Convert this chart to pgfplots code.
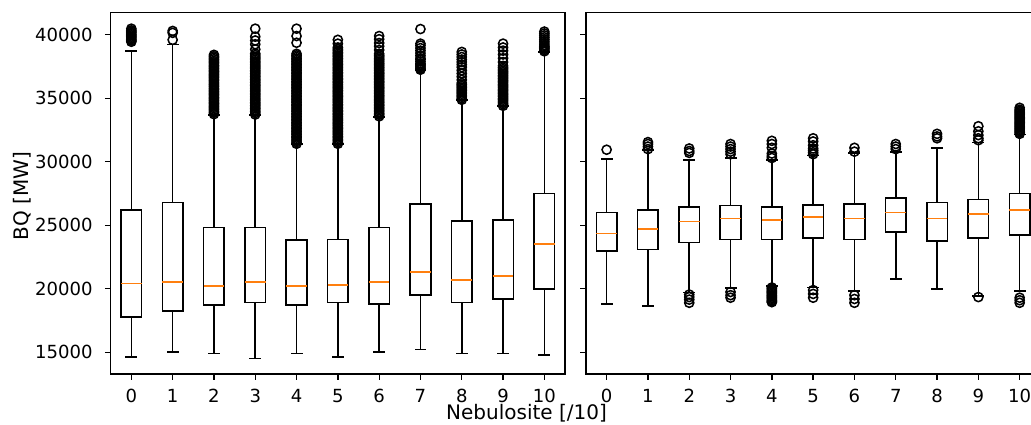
\documentclass[border=0pt]{standalone}
\usepackage{fontspec}
\setmainfont{DejaVu Sans}
\usepackage{pgfplots}
\pgfplotsset{compat=1.18}
\definecolor{mplorange}{HTML}{FF7F0E}
\pgfplotsset{
  bpaxis/.style={
    scale only axis, width=327.1pt, height=260.1pt,
    xmin=-0.5, xmax=10.5, ymin=13292, ymax=41731,
    xtick={0,1,2,3,4,5,6,7,8,9,10}, ytick={15000,20000,25000,30000,35000,40000},
    scaled y ticks=false,
    /pgf/number format/assume math mode=true,
    /pgf/number format/set thousands separator={},
    tick align=outside, major tick length=4.2pt, tick pos=left,
    every tick/.style={black, line width=0.95pt},
    axis line style={black, line width=0.95pt},
    tick label style={font=\fontsize{13}{15}\selectfont, black},
    xticklabel style={anchor=base, inner sep=0pt, yshift=-16.1pt},
    yticklabel style={anchor=east, inner sep=0pt, xshift=-8.6pt},
    label style={font=\fontsize{14.4}{16}\selectfont},
    unbounded coords=jump,
  },
  seg/.style={black, line width=1.15pt, mark=none, line cap=rect},
  med/.style={mplorange, line width=1.15pt, mark=none},
  fl/.style={only marks, mark=o, mark size=3.3pt, mark options={solid, line width=1.1pt, fill=none, draw=black}},
}
\begin{document}
\begin{tikzpicture}
\begin{axis}[bpaxis, at={(79.7pt,36pt)}, anchor=south west,
  ylabel={BQ [MW]}, ylabel style={at={(axis description cs:-0.194,0.493)}, anchor=center, inner sep=0pt}]
% whiskers and caps
\addplot[seg] coordinates {
(0,26198) (0,38717) (0,nan) (-0.125,38717) (0.125,38717) (0,nan) (0,17798) (0,14649) (0,nan) (-0.125,14649) (0.125,14649) (0,nan)
(1,26805) (1,39244) (1,nan) (0.875,39244) (1.125,39244) (1,nan) (1,18246) (1,15043) (1,nan) (0.875,15043) (1.125,15043) (1,nan)
(2,24836) (2,33678) (2,nan) (1.875,33678) (2.125,33678) (2,nan) (2,18719) (2,14916) (2,nan) (1.875,14916) (2.125,14916) (2,nan)
(3,24836) (3,33678) (3,nan) (2.875,33678) (3.125,33678) (3,nan) (3,18930) (3,14522) (3,nan) (2.875,14522) (3.125,14522) (3,nan)
(4,23837) (4,31395) (4,nan) (3.875,31395) (4.125,31395) (4,nan) (4,18719) (4,14916) (4,nan) (3.875,14916) (4.125,14916) (4,nan)
(5,23890) (5,31395) (5,nan) (4.875,31395) (5.125,31395) (5,nan) (5,18930) (5,14649) (5,nan) (4.875,14649) (5.125,14649) (5,nan)
(6,24836) (6,33547) (6,nan) (5.875,33547) (6.125,33547) (6,nan) (6,18822) (6,15043) (6,nan) (5.875,15043) (6.125,15043) (6,nan)
(7,26670) (7,37221) (7,nan) (6.875,37221) (7.125,37221) (7,nan) (7,19507) (7,15233) (7,nan) (6.875,15233) (7.125,15233) (7,nan)
(8,25333) (8,34859) (8,nan) (7.875,34859) (8.125,34859) (8,nan) (8,18930) (8,14916) (8,nan) (7.875,14916) (8.125,14916) (8,nan)
(9,25411) (9,34387) (9,nan) (8.875,34387) (9.125,34387) (9,nan) (9,19192) (9,14916) (9,nan) (8.875,14916) (9.125,14916) (9,nan)
(10,27510) (10,38662) (10,nan) (9.875,38662) (10.125,38662) (10,nan) (10,19979) (10,14784) (10,nan) (9.875,14784) (10.125,14784)
};
% boxes (Q1 to Q3)
\addplot[seg, line join=miter] coordinates {
(-0.25,17798) (0.25,17798) (0.25,26198) (-0.25,26198) (-0.25,17798) (0,nan)
(0.75,18246) (1.25,18246) (1.25,26805) (0.75,26805) (0.75,18246) (1,nan)
(1.75,18719) (2.25,18719) (2.25,24836) (1.75,24836) (1.75,18719) (2,nan)
(2.75,18930) (3.25,18930) (3.25,24836) (2.75,24836) (2.75,18930) (3,nan)
(3.75,18719) (4.25,18719) (4.25,23837) (3.75,23837) (3.75,18719) (4,nan)
(4.75,18930) (5.25,18930) (5.25,23890) (4.75,23890) (4.75,18930) (5,nan)
(5.75,18822) (6.25,18822) (6.25,24836) (5.75,24836) (5.75,18822) (6,nan)
(6.75,19507) (7.25,19507) (7.25,26670) (6.75,26670) (6.75,19507) (7,nan)
(7.75,18930) (8.25,18930) (8.25,25333) (7.75,25333) (7.75,18930) (8,nan)
(8.75,19192) (9.25,19192) (9.25,25411) (8.75,25411) (8.75,19192) (9,nan)
(9.75,19979) (10.25,19979) (10.25,27510) (9.75,27510) (9.75,19979)
};
% medians
\addplot[med] coordinates {
(-0.25,20427) (0.25,20427) (0,nan)
(0.75,20555) (1.25,20555) (1,nan)
(1.75,20215) (2.25,20215) (2,nan)
(2.75,20555) (3.25,20555) (3,nan)
(3.75,20215) (4.25,20215) (4,nan)
(4.75,20320) (5.25,20320) (5,nan)
(5.75,20555) (6.25,20555) (6,nan)
(6.75,21342) (7.25,21342) (7,nan)
(7.75,20690) (8.25,20690) (8,nan)
(8.75,21005) (9.25,21005) (9,nan)
(9.75,23549) (10.25,23549)
};
% outliers
\addplot[fl] coordinates {
(0,39450) (0,39550) (0,39650) (0,39750) (0,39850) (0,39950) (0,40050) (0,40150) (0,40250) (0,40350) (0,40480)
(1,39600) (1,40150) (1,40300)
(2,33750) (2,33870) (2,33980) (2,34110) (2,34230) (2,34340) (2,34470) (2,34590) (2,34700) (2,34830) (2,34950) (2,35060) (2,35190) (2,35310) (2,35420) (2,35550) (2,35670) (2,35780) (2,35910) (2,36030) (2,36140) (2,36270) (2,36390) (2,36500) (2,36630) (2,36750) (2,36860) (2,36990) (2,37110) (2,37220) (2,37350) (2,37470) (2,37580) (2,37710) (2,37830) (2,37940) (2,38070) (2,38190) (2,38300) (2,38420)
(3,33720) (3,33840) (3,33950) (3,34080) (3,34200) (3,34310) (3,34440) (3,34560) (3,34670) (3,34800) (3,34920) (3,35030) (3,35160) (3,35280) (3,35390) (3,35520) (3,35640) (3,35750) (3,35880) (3,36000) (3,36110) (3,36240) (3,36360) (3,36470) (3,36600) (3,36720) (3,36830) (3,36960) (3,37080) (3,37190) (3,37320) (3,37440) (3,37550) (3,37680) (3,37800) (3,37910) (3,38040) (3,38160) (3,38270) (3,38400) (3,38520) (3,38850) (3,39250) (3,39550) (3,39850) (3,40480)
(4,31420) (4,31540) (4,31650) (4,31780) (4,31900) (4,32010) (4,32140) (4,32260) (4,32370) (4,32500) (4,32620) (4,32730) (4,32860) (4,32980) (4,33090) (4,33220) (4,33340) (4,33450) (4,33580) (4,33700) (4,33810) (4,33940) (4,34060) (4,34170) (4,34300) (4,34420) (4,34530) (4,34660) (4,34780) (4,34890) (4,35020) (4,35140) (4,35250) (4,35380) (4,35500) (4,35610) (4,35740) (4,35860) (4,35970) (4,36100) (4,36220) (4,36330) (4,36460) (4,36580) (4,36690) (4,36820) (4,36940) (4,37050) (4,37180) (4,37300) (4,37410) (4,37540) (4,37660) (4,37770) (4,37900) (4,38020) (4,38130) (4,38260) (4,38380) (4,38500) (4,39370) (4,39900) (4,40480)
(5,31420) (5,31540) (5,31650) (5,31780) (5,31900) (5,32010) (5,32140) (5,32260) (5,32370) (5,32500) (5,32620) (5,32730) (5,32860) (5,32980) (5,33090) (5,33220) (5,33340) (5,33450) (5,33580) (5,33700) (5,33810) (5,33940) (5,34060) (5,34170) (5,34300) (5,34420) (5,34530) (5,34660) (5,34780) (5,34890) (5,35020) (5,35140) (5,35250) (5,35380) (5,35500) (5,35610) (5,35740) (5,35860) (5,35970) (5,36100) (5,36220) (5,36330) (5,36460) (5,36580) (5,36690) (5,36820) (5,36940) (5,37050) (5,37180) (5,37300) (5,37410) (5,37540) (5,37660) (5,37770) (5,37900) (5,38020) (5,38130) (5,38260) (5,38380) (5,38500) (5,38620) (5,38750) (5,38870) (5,39000) (5,39300) (5,39600)
(6,33580) (6,33700) (6,33810) (6,33940) (6,34060) (6,34170) (6,34300) (6,34420) (6,34530) (6,34660) (6,34780) (6,34890) (6,35020) (6,35140) (6,35250) (6,35380) (6,35500) (6,35610) (6,35740) (6,35860) (6,35970) (6,36100) (6,36220) (6,36330) (6,36460) (6,36580) (6,36690) (6,36820) (6,36940) (6,37050) (6,37180) (6,37300) (6,37410) (6,37540) (6,37660) (6,37770) (6,37900) (6,38020) (6,38130) (6,38260) (6,38380) (6,38500) (6,38800) (6,39100) (6,39350) (6,39650) (6,39900)
(7,37250) (7,37350) (7,37450) (7,37550) (7,37650) (7,37750) (7,37900) (7,38050) (7,38150) (7,38350) (7,38550) (7,38750) (7,38950) (7,39150) (7,39300) (7,40450)
(8,34880) (8,35000) (8,35120) (8,35240) (8,35360) (8,35480) (8,35600) (8,35720) (8,35840) (8,35960) (8,36080) (8,36200) (8,36450) (8,36700) (8,36950) (8,37200) (8,37450) (8,37650) (8,37850) (8,38050) (8,38250) (8,38450) (8,38650)
(9,34410) (9,34530) (9,34640) (9,34770) (9,34890) (9,35000) (9,35130) (9,35250) (9,35360) (9,35490) (9,35610) (9,35720) (9,35850) (9,35970) (9,36080) (9,36210) (9,36330) (9,36440) (9,36570) (9,36690) (9,36800) (9,36930) (9,37050) (9,37160) (9,37290) (9,37410) (9,37550) (9,37850) (9,38150) (9,38450) (9,38750) (9,39000) (9,39300)
(10,38700) (10,38800) (10,38900) (10,39000) (10,39100) (10,39200) (10,39350) (10,39500) (10,39650) (10,39800) (10,39950) (10,40100) (10,40250)
};
\end{axis}

\begin{axis}[bpaxis, at={(421.9pt,36pt)}, anchor=south west, yticklabel=\empty]
\addplot[seg] coordinates {
(0,26017) (0,30238) (0,nan) (-0.125,30238) (0.125,30238) (0,nan) (0,22994) (0,18798) (0,nan) (-0.125,18798) (0.125,18798) (0,nan)
(1,26222) (1,30923) (1,nan) (0.875,30923) (1.125,30923) (1,nan) (1,23101) (1,18640) (1,nan) (0.875,18640) (1.125,18640) (1,nan)
(2,26458) (2,30135) (2,nan) (1.875,30135) (2.125,30135) (2,nan) (2,23656) (2,19718) (2,nan) (1.875,19718) (2.125,19718) (2,nan)
(3,26566) (3,30294) (3,nan) (2.875,30294) (3.125,30294) (3,nan) (3,23890) (3,20058) (3,nan) (2.875,20058) (3.125,20058) (3,nan)
(4,26458) (4,30135) (4,nan) (3.875,30135) (4.125,30135) (4,nan) (4,23890) (4,20215) (4,nan) (3.875,20215) (4.125,20215) (4,nan)
(5,26592) (5,30504) (5,nan) (4.875,30504) (5.125,30504) (5,nan) (5,24021) (5,20110) (5,nan) (4.875,20110) (5.125,20110) (5,nan)
(6,26697) (6,30714) (6,nan) (5.875,30714) (6.125,30714) (6,nan) (6,23890) (6,19849) (6,nan) (5.875,19849) (6.125,19849) (6,nan)
(7,27143) (7,30793) (7,nan) (6.875,30793) (7.125,30793) (7,nan) (7,24495) (7,20792) (7,nan) (6.875,20792) (7.125,20792) (7,nan)
(8,26805) (8,31107) (8,nan) (7.875,31107) (8.125,31107) (8,nan) (8,23784) (8,19979) (8,nan) (7.875,19979) (8.125,19979) (8,nan)
(9,27038) (9,31526) (9,nan) (8.875,31526) (9.125,31526) (9,nan) (9,24021) (9,19455) (9,nan) (8.875,19455) (9.125,19455) (9,nan)
(10,27510) (10,32156) (10,nan) (9.875,32156) (10.125,32156) (10,nan) (10,24233) (10,19849) (10,nan) (9.875,19849) (10.125,19849)
};
\addplot[seg, line join=miter] coordinates {
(-0.25,22994) (0.25,22994) (0.25,26017) (-0.25,26017) (-0.25,22994) (0,nan)
(0.75,23101) (1.25,23101) (1.25,26222) (0.75,26222) (0.75,23101) (1,nan)
(1.75,23656) (2.25,23656) (2.25,26458) (1.75,26458) (1.75,23656) (2,nan)
(2.75,23890) (3.25,23890) (3.25,26566) (2.75,26566) (2.75,23890) (3,nan)
(3.75,23890) (4.25,23890) (4.25,26458) (3.75,26458) (3.75,23890) (4,nan)
(4.75,24021) (5.25,24021) (5.25,26592) (4.75,26592) (4.75,24021) (5,nan)
(5.75,23890) (6.25,23890) (6.25,26697) (5.75,26697) (5.75,23890) (6,nan)
(6.75,24495) (7.25,24495) (7.25,27143) (6.75,27143) (6.75,24495) (7,nan)
(7.75,23784) (8.25,23784) (8.25,26805) (7.75,26805) (7.75,23784) (8,nan)
(8.75,24021) (9.25,24021) (9.25,27038) (8.75,27038) (8.75,24021) (9,nan)
(9.75,24233) (10.25,24233) (10.25,27510) (9.75,27510) (9.75,24233)
};
\addplot[med] coordinates {
(-0.25,24364) (0.25,24364) (0,nan)
(0.75,24728) (1.25,24728) (1,nan)
(1.75,25311) (2.25,25311) (2,nan)
(2.75,25521) (3.25,25521) (3,nan)
(3.75,25411) (4.25,25411) (4,nan)
(4.75,25647) (5.25,25647) (5,nan)
(5.75,25521) (6.25,25521) (6,nan)
(6.75,25993) (7.25,25993) (7,nan)
(7.75,25521) (8.25,25521) (8,nan)
(8.75,25888) (9.25,25888) (9,nan)
(9.75,26222) (10.25,26222)
};
\addplot[fl] coordinates {
(0,30950)
(1,31000) (1,31200) (1,31400) (1,31550)
(2,30700) (2,30850) (2,31050) (2,19550) (2,19350) (2,19150) (2,18900)
(3,30600) (3,30800) (3,31000) (3,31200) (3,31400) (3,19750) (3,19500) (3,19300)
(4,30300) (4,30450) (4,30650) (4,31100) (4,31400) (4,31650) (4,20100) (4,20000) (4,19900) (4,19800) (4,19700) (4,19600) (4,19500) (4,19400) (4,19300) (4,19200) (4,19100) (4,19000) (4,18950)
(5,30600) (5,30750) (5,30900) (5,31050) (5,31300) (5,31600) (5,31850) (5,19900) (5,19600) (5,19300)
(6,30800) (6,31100) (6,19500) (6,19200) (6,18900)
(7,31000) (7,31200) (7,31400)
(8,31850) (8,32000) (8,32200)
(9,31700) (9,31850) (9,32100) (9,32400) (9,32800) (9,19350)
(10,32200) (10,32300) (10,32400) (10,32500) (10,32600) (10,32700) (10,32800) (10,32900) (10,33000) (10,33100) (10,33200) (10,33300) (10,33400) (10,33500) (10,33600) (10,33700) (10,33800) (10,33900) (10,34000) (10,34100) (10,34250) (10,19300) (10,19100) (10,18900)
};
\end{axis}
\node[anchor=base, inner sep=0pt, font=\fontsize{14.4}{16}\selectfont] at (379.1pt,3.4pt) {Nebulosite [/10]};
\pgfresetboundingbox
\useasboundingbox (0,0) rectangle (742.3pt,305.3pt);
\end{tikzpicture}
\end{document}
